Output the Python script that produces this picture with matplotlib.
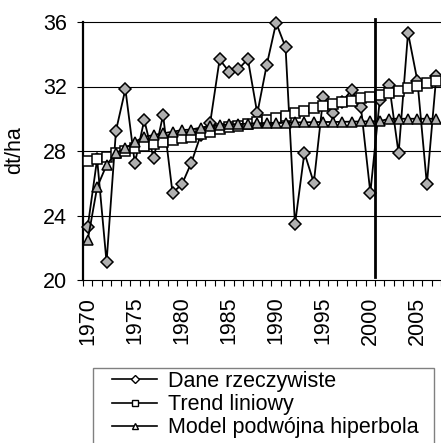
import matplotlib
matplotlib.use("Agg")
import matplotlib.pyplot as plt
from matplotlib.lines import Line2D
from matplotlib.patches import Rectangle

plt.rcParams['font.family'] = ['Liberation Sans', 'DejaVu Sans']

years = list(range(1970, 2008))
actual = [23.3, 27.5, 21.1, 29.26, 31.84, 27.23, 29.92, 27.54, 30.23, 25.41,
          25.93, 27.27, 29.0, 29.75, 33.68, 32.92, 33.08, 33.70, 30.33, 33.33,
          35.95, 34.43, 23.45, 27.89, 26.03, 31.33, 30.37, 31.05, 31.78, 30.72,
          25.41, 31.16, 32.09, 27.85, 35.33, 32.34, 25.93, 32.65]
trend = [27.40, 27.48, 27.65, 27.85, 28.02, 28.16, 28.30, 28.41, 28.57, 28.68,
         28.78, 28.88, 29.03, 29.19, 29.34, 29.47, 29.57, 29.65, 29.81, 29.92,
         30.02, 30.20, 30.37, 30.50, 30.64, 30.78, 30.89, 31.01, 31.13, 31.26,
         31.36, 31.47, 31.60, 31.75, 31.88, 32.03, 32.20, 32.36]
hyperbola = [22.47, 25.75, 27.13, 27.89, 28.16, 28.57, 28.88, 28.99, 29.10, 29.19,
             29.30, 29.33, 29.45, 29.55, 29.60, 29.65, 29.67, 29.70, 29.72, 29.74,
             29.75, 29.76, 29.77, 29.78, 29.79, 29.80, 29.80, 29.81, 29.82, 29.83,
             29.84, 29.85, 30.00, 30.00, 30.00, 30.00, 30.00, 30.00]
labels = ["Dane rzeczywiste", "Trend liniowy", "Model podwójna hiperbola"]
yticks = [20, 24, 28, 32, 36]
split_year = 2000.5

FS = 15.5
W, H = 441, 443
fig = plt.figure(figsize=(W / 100, H / 100), dpi=100)
left, right, top, bottom = 83, 441, 22, 280
ax = fig.add_axes([left / W, 1 - bottom / H, (right - left) / W, (bottom - top) / H])

x = list(range(len(years)))
ax.plot(x, actual, color='black', lw=1.3, marker='D', markersize=6.5,
        markerfacecolor='#b0b0b0', markeredgecolor='black', markeredgewidth=1.1,
        clip_on=False, zorder=3)
ax.plot(x, trend, color='black', lw=1.3, marker='s', markersize=7,
        markerfacecolor='white', markeredgecolor='black', markeredgewidth=1.1,
        clip_on=False, zorder=4)
ax.plot(x, hyperbola, color='black', lw=1.3, marker='^', markersize=7,
        markerfacecolor='#b0b0b0', markeredgecolor='black', markeredgewidth=1.1,
        clip_on=False, zorder=5)

xv = split_year - years[0]
ax.plot([xv, xv], [20.2, 36.2], color='black', lw=2.0, clip_on=False, zorder=6)

px_per_cat = 9.47
ax.set_xlim(-0.5, -0.5 + (right - left) / px_per_cat)
ax.set_ylim(20, 36)
ax.set_yticks(yticks)
for yv in yticks[1:-1]:
    ax.axhline(yv, color='black', lw=0.8, zorder=1)

major = [i for i, yr in enumerate(years) if yr % 5 == 0]
ax.set_xticks(major)
ax.set_xticklabels([str(years[i]) for i in major], rotation=90, fontsize=FS)
ax.set_xticks([i - 0.5 for i in range(len(years) + 1)], minor=True)
ax.tick_params(axis='x', which='major', length=0, pad=12)
ax.tick_params(axis='x', which='minor', length=4, width=0.8, direction='out')
ax.tick_params(axis='y', length=4.5, width=0.8, direction='out', labelsize=FS, pad=7)

ax.spines['right'].set_visible(False)
ax.spines['left'].set_linewidth(1.6)
ax.spines['bottom'].set_linewidth(0.8)
ax.spines['top'].set_linewidth(0.8)
ax.set_ylabel("dt/ha", fontsize=FS)
ax.yaxis.set_label_coords((25 - left) / (right - left), (bottom - 150) / (bottom - top))

# legend box
fig.patches.append(Rectangle((93 / W, -0.05), (434 - 93) / W, 1 - 368 / H + 0.05,
                             transform=fig.transFigure, facecolor='white',
                             edgecolor='#808080', lw=1.0))
handles = [
    Line2D([], [], color='black', lw=1.2, marker='D', markersize=4,
           markerfacecolor='white', markeredgecolor='black'),
    Line2D([], [], color='black', lw=1.2, marker='s', markersize=5,
           markerfacecolor='white', markeredgecolor='black'),
    Line2D([], [], color='black', lw=1.2, marker='^', markersize=5,
           markerfacecolor='white', markeredgecolor='black'),
]
fig.legend(handles, labels, loc='upper left', bbox_to_anchor=(112 / W, 1 - 371 / H),
           frameon=False, fontsize=FS, handlelength=2.1, handletextpad=0.5,
           labelspacing=0.1, borderpad=0, borderaxespad=0)

fig.savefig("out.png", dpi=100)
